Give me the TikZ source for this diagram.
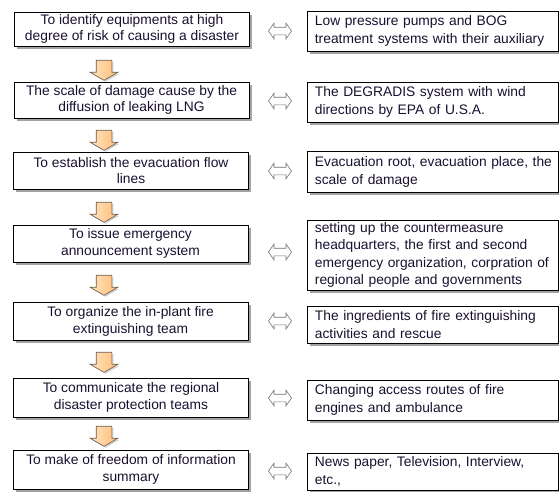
\documentclass[tikz,border=0pt]{standalone}
\usepackage{fontspec}
\setmainfont{Liberation Sans}
\usetikzlibrary{shapes.arrows,shadows}
\definecolor{arrlight}{HTML}{FFE3BE}
\definecolor{arrdark}{HTML}{FFBE7A}
\definecolor{arredge}{HTML}{6E5A48}
\definecolor{txt}{HTML}{1A1030}
\begin{document}
\begin{tikzpicture}[x=1pt,y=-1pt,
  boxshadow/.style={drop shadow={shadow xshift=2.5pt,shadow yshift=-2.5pt,fill=black!45,opacity=0.8}},
  lbox/.style={draw=black, line width=0.8pt, fill=white, align=center, minimum width=235pt,
    inner sep=0pt, text=txt, font=\fontsize{13.8}{16.5}\selectfont, boxshadow},
  rbox/.style={draw=black, line width=0.8pt, fill=white, align=left, text width=236pt,
    inner xsep=7.5pt, inner ysep=0pt, text=txt, font=\fontsize{13.8}{17.5}\selectfont, anchor=west, boxshadow},
  downarr/.style={single arrow, rotate=-90, draw=arredge, line width=0.6pt, left color=arrlight, right color=arrdark,
    minimum height=20pt, inner xsep=0pt, inner ysep=7.5pt, single arrow head extend=6pt, single arrow tip angle=120,
    drop shadow={shadow xshift=1.5pt,shadow yshift=-1.5pt,fill=black!30,opacity=0.6}},
  biarr/.style={double arrow, draw=black!55, line width=0.6pt, fill=white, minimum height=23pt,
    inner xsep=0pt, inner ysep=3.5pt, double arrow head extend=4pt, double arrow tip angle=110}
]
\useasboundingbox (0,0) rectangle (559,491);

% left boxes
\node[lbox, minimum height=34pt] (L1) at (132,29) {To identify equipments at high\\degree of risk of causing a disaster};
\node[lbox, minimum height=36pt] (L2) at (131.5,100) {The scale of damage cause by the\\diffusion of leaking LNG};
\node[lbox, minimum height=37pt] (L3) at (131,170.5) {To establish the evacuation flow\\lines};
\node[lbox, minimum height=37pt] (L4) at (130.5,243.5) {To issue emergency\\announcement system};
\node[lbox, minimum height=38pt] (L5) at (130.5,321.5) {To organize the in-plant fire\\extinguishing team};
\node[lbox, minimum height=39pt] (L6) at (131,397.5) {To communicate the regional\\disaster protection teams};
\node[lbox, minimum height=39pt] (L7) at (131,469.5) {To make of freedom of information\\summary};

% right boxes
\node[rbox, minimum height=40pt] (R1) at (307,31) {Low pressure pumps and BOG\\treatment systems with their auxiliary};
\node[rbox, minimum height=40pt] (R2) at (307,102) {The DEGRADIS system with wind\\directions by EPA of U.S.A.};
\node[rbox, minimum height=41pt] (R3) at (307,172) {\mbox{Evacuation root, evacuation place, the}\\scale of damage};
\node[rbox, minimum height=70pt] (R4) at (307,255) {setting up the countermeasure\\headquarters, the first and second\\\mbox{emergency organization, corpration of}\\regional people and governments};
\node[rbox, minimum height=37pt] (R5) at (307,324.5) {The ingredients of fire extinguishing\\activities and rescue};
\node[rbox, minimum height=40pt] (R6) at (307,400) {Changing access routes of fire\\engines and ambulance};
\node[rbox, minimum height=37pt] (R7) at (307,471.5) {News paper, Television, Interview,\\etc.,};

% down arrows
\node[downarr] (d1) at (104,68) {};
\node[downarr] (d2) at (104,138) {};
\node[downarr] (d3) at (104,210) {};
\node[downarr] (d4) at (104,283) {};
\node[downarr] (d5) at (104,360) {};
\node[downarr] (d6) at (104,434) {};

% double arrows
\node[biarr] (b1) at (280,31) {};
\node[biarr] (b2) at (280,101) {};
\node[biarr] (b3) at (280,171) {};
\node[biarr] (b4) at (280,252) {};
\node[biarr] (b5) at (280,321) {};
\node[biarr] (b6) at (280,398) {};
\node[biarr] (b7) at (280,471) {};
\end{tikzpicture}
\end{document}
